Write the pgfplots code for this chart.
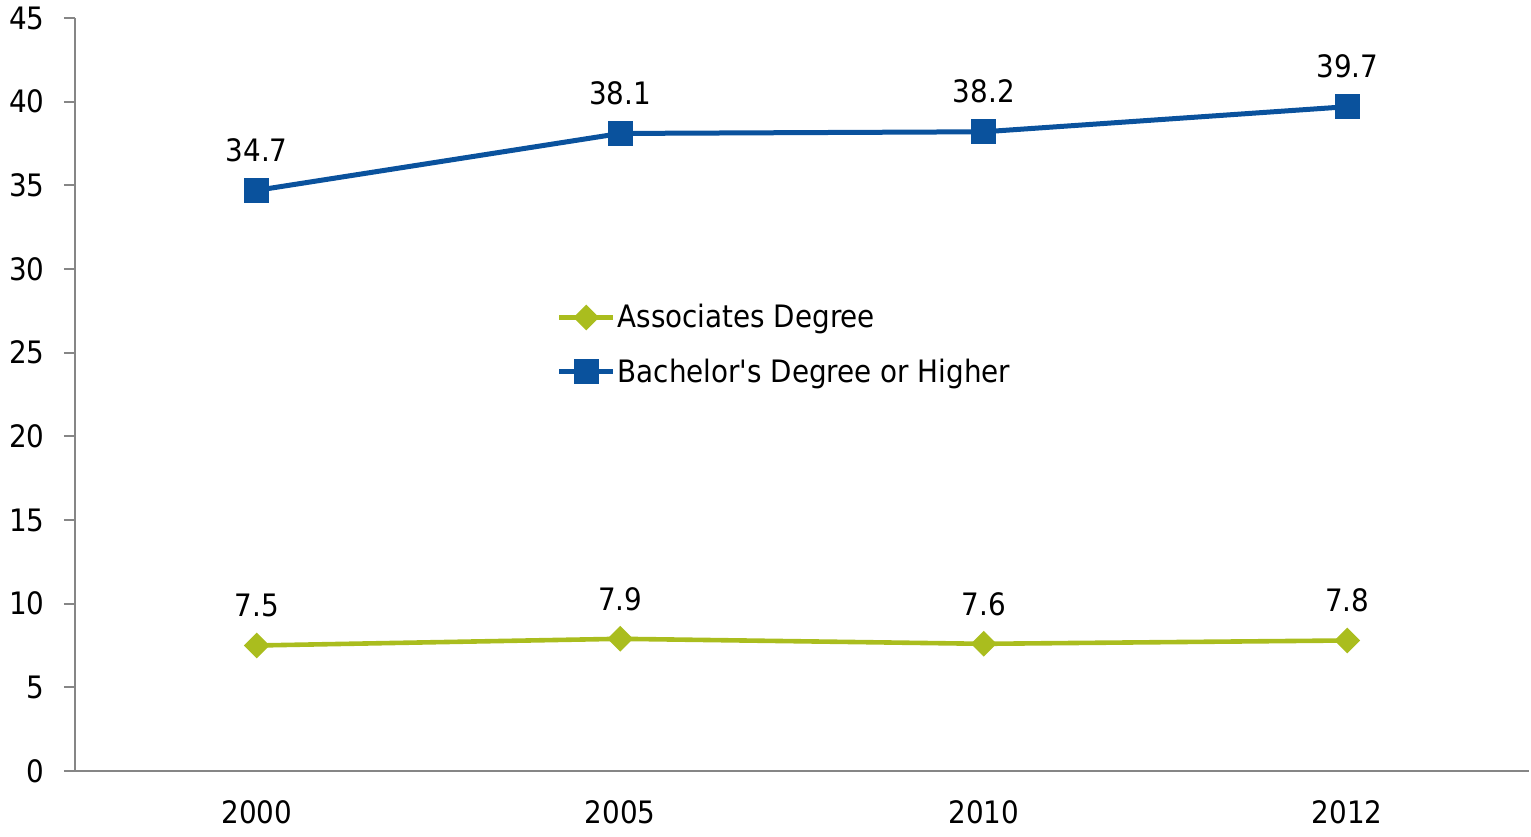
\documentclass[border=0pt]{standalone}
\usepackage{pgfplots}
\pgfplotsset{compat=1.18}
\usepackage{fontspec}
\setmainfont{DejaVu Sans Condensed}[Ligatures=TeXOff]
\definecolor{bblue}{HTML}{0A529D}
\definecolor{agreen}{HTML}{AABD1E}
\definecolor{axgray}{HTML}{868686}
\begin{document}
\begin{tikzpicture}
\begin{axis}[
  scale only axis,
  width=727bp, height=376.5bp,
  at={(0,0)}, anchor=south west,
  xmin=0, xmax=4, ymin=0, ymax=45,
  axis x line*=bottom, axis y line*=left,
  axis line style={axgray, line width=1bp},
  ytick={0,5,...,45},
  xtick={0.5,1.5,2.5,3.5},
  xticklabels={2000,2005,2010,2012},
  minor xtick={0,1,2,3,4},
  tick align=outside,
  major tick length=5.5bp, minor tick length=5bp,
  xtick style={draw=none},
  minor x tick style={axgray, line width=1bp},
  ytick style={axgray, line width=1bp},
  font=\fontsize{15.5}{18}\selectfont,
  /pgf/number format/assume math mode=true,
  yticklabel style={font=\fontsize{15.5}{18}\selectfont, inner sep=0pt, xshift=-9.5bp},
  xticklabel style={font=\fontsize{15.5}{18}\selectfont, inner sep=0pt, yshift=-9bp},
  clip=false,
  nodes near coords,
  nodes near coords style={font=\fontsize{15.5}{18}\selectfont, inner sep=0pt, anchor=south, yshift=13bp, text=black},
  point meta=explicit symbolic,
  legend style={draw=none, fill=none, at={(0.331,0.623)}, anchor=north west, inner sep=0pt,
    font=\fontsize{15.5}{18}\selectfont, row sep=12bp, nodes={inner sep=1pt}},
  legend cell align=left,
]
\addplot[agreen, line width=2.3bp, mark=square*, mark size=3.4bp, mark options={rotate=45, solid},
  legend image code/.code={\draw[line width=2.3bp, mark repeat=2, mark phase=2] plot coordinates {(0bp,0bp) (13.5bp,0bp) (27bp,0bp)};}]
  coordinates {(0.5,7.5)[7.5] (1.5,7.9)[7.9] (2.5,7.6)[7.6] (3.5,7.8)[7.8]};
\addlegendentry{Associates Degree}
\addplot[bblue, line width=2.5bp, mark=square*, mark size=5bp, mark options={solid},
  legend image code/.code={\draw[line width=2.5bp, mark repeat=2, mark phase=2] plot coordinates {(0bp,0bp) (13.5bp,0bp) (27bp,0bp)};}]
  coordinates {(0.5,34.7)[34.7] (1.5,38.1)[38.1] (2.5,38.2)[38.2] (3.5,39.7)[39.7]};
\addlegendentry{Bachelor's Degree or Higher}
\end{axis}
\pgfresetboundingbox
\path (-37.5bp,-33bp) rectangle (728bp,385.5bp);
\end{tikzpicture}
\end{document}
